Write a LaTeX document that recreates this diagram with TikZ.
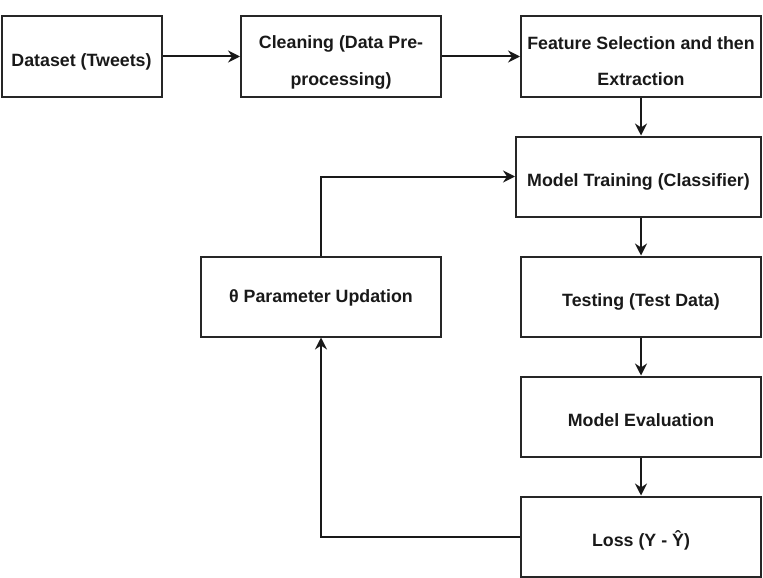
\documentclass[tikz,border=0pt]{standalone}
\usepackage{fontspec}
\setmainfont{Liberation Sans}
\usetikzlibrary{arrows.meta}
\begin{document}
\begin{tikzpicture}[x=1pt,y=-1pt,
  box/.style={draw=black!85, line width=2pt, minimum width=240pt, minimum height=80pt, inner sep=0pt},
  lbl/.style={anchor=base, font=\bfseries\fontsize{17.8}{20}\selectfont, inner sep=0pt, text=black!90},
  arr/.style={line width=2pt, draw=black!90, -{Stealth[length=12pt,width=12pt,inset=4pt]}}]
\useasboundingbox (0,0) rectangle (763,578);
% boxes
\node[box, minimum width=160pt] (data) at (81.5,56.5) {};
\node[box, minimum width=200pt] (clean) at (341,56.5) {};
\node[box] (feat) at (641,56.5) {};
\node[box, minimum width=245pt] (train) at (638.5,176.5) {};
\node[box] (theta) at (321,296.5) {};
\node[box] (test) at (641,296.5) {};
\node[box] (eval) at (641,416.5) {};
\node[box] (loss) at (641,536.5) {};
% labels
\node[lbl] (tdata) at ([yshift=-10pt]data.center) {Dataset (Tweets)};
\node[lbl] (tclean1) at ([yshift=8pt]clean.center) {Cleaning (Data Pre-};
\node[lbl] (tclean2) at ([yshift=-28.5pt]clean.center) {processing)};
\node[lbl] (tfeat1) at ([yshift=7.5pt]feat.center) {Feature Selection and then};
\node[lbl] (tfeat2) at ([yshift=-28.5pt]feat.center) {Extraction};
\node[lbl] (ttrain) at ([yshift=-10pt]train.center) {Model Training (Classifier)};
\node[lbl] (ttheta) at ([yshift=-6pt]theta.center) {θ Parameter Updation};
\node[lbl] (ttest) at ([yshift=-10pt]test.center) {Testing (Test Data)};
\node[lbl] (teval) at ([yshift=-10pt]eval.center) {Model Evaluation};
\node[lbl] (tloss) at ([yshift=-10pt]loss.center) {Loss (Y - Ŷ)};
% connectors
\draw[arr] (data.east) -- (clean.west);
\draw[arr] (clean.east) -- (feat.west);
\draw[arr] (feat.south) -- (feat.south |- train.north);
\draw[arr] (test.north |- train.south) -- (test.north);
\draw[arr] (test.south) -- (eval.north);
\draw[arr] (eval.south) -- (loss.north);
\draw[arr] (loss.west) -| (theta.south);
\draw[arr] (theta.north) |- (train.west);
\end{tikzpicture}
\end{document}
